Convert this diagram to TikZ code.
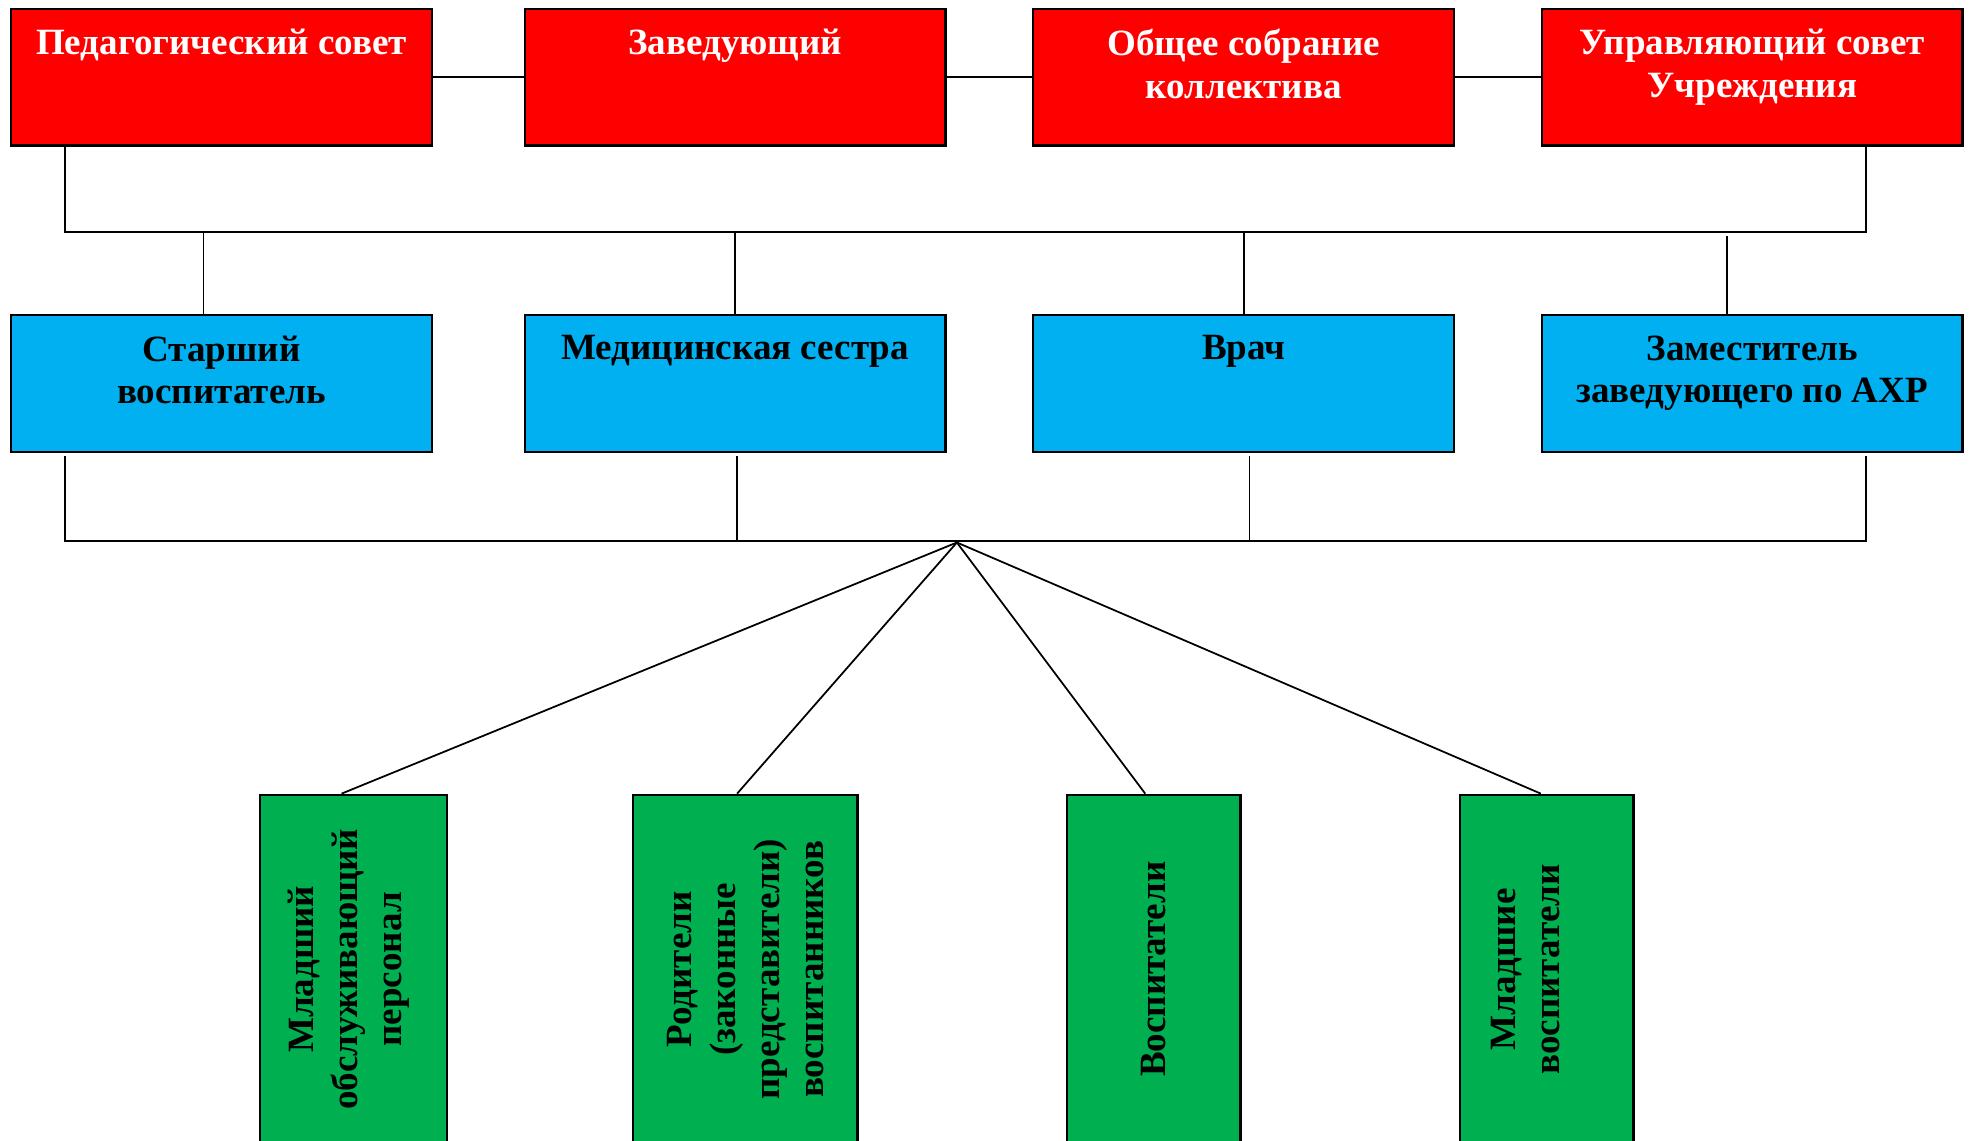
\documentclass[tikz,border=0pt]{standalone}
\usepackage{fontspec}
\setmainfont{Liberation Serif}
\begin{document}
\begin{tikzpicture}[x=1pt,y=-1pt,
  box/.style={draw=black,line width=1.8pt,minimum width=335pt,minimum height=109pt,inner sep=0pt,anchor=north west},
  redbox/.style={box,fill=red},
  bluebox/.style={box,fill={rgb,255:red,0;green,176;blue,240}},
  greenbox/.style={draw=black,line width=1.8pt,minimum height=278pt,inner sep=0pt,anchor=north west,fill={rgb,255:red,0;green,176;blue,80}},
  boxtext/.style={font=\fontsize{29.5}{34}\selectfont\bfseries,align=center,anchor=north,inner sep=0pt},
  vtext/.style={font=\fontsize{29.5}{35}\selectfont\bfseries,align=center,rotate=90,inner sep=0pt},
  conn/.style={draw=black,line width=1.4pt}]
\useasboundingbox (0,0) rectangle (1568,908);
\begin{scope}
\clip (0,0) rectangle (1568,908);
% red row
\node[redbox] (r1) at (8,6) {};
\node[redbox] (r2) at (417,6) {};
\node[redbox] (r3) at (822,6) {};
\node[redbox] (r4) at (1227,6) {};
\node[boxtext,text=white] (tr1) at ([yshift=-17]r1.north) {Педагогический совет};
\node[boxtext,text=white] (tr2) at ([yshift=-17]r2.north) {Заведующий};
\node[boxtext,text=white] (tr3) at ([yshift=-17]r3.north) {Общее собрание\\коллектива};
\node[boxtext,text=white] (tr4) at ([yshift=-17]r4.north) {Управляющий совет\\Учреждения};
% blue row
\node[bluebox] (b1) at (8,250) {};
\node[bluebox] (b2) at (417,250) {};
\node[bluebox] (b3) at (822,250) {};
\node[bluebox] (b4) at (1227,250) {};
\node[boxtext] (tb1) at ([yshift=-17]b1.north) {Старший\\воспитатель};
\node[boxtext] (tb2) at ([yshift=-17]b2.north) {Медицинская сестра};
\node[boxtext] (tb3) at ([yshift=-17]b3.north) {Врач};
\node[boxtext] (tb4) at ([yshift=-17]b4.north) {Заместитель\\заведующего по АХР};
% green row
\node[greenbox,minimum width=149pt] (g1) at (206,632) {};
\node[greenbox,minimum width=179pt] (g2) at (503,632) {};
\node[greenbox,minimum width=138pt] (g3) at (849,632) {};
\node[greenbox,minimum width=138pt] (g4) at (1162,632) {};
\node[vtext] (tg1) at ([xshift=-4]g1.center) {Младший\\обслуживающий\\персонал};
\node[vtext] (tg2) at (g2.center) {Родители\\(законные\\представители)\\воспитанников};
\node[vtext] (tg3) at (g3.center) {Воспитатели};
\node[vtext] (tg4) at ([xshift=-17]g4.center) {Младшие\\воспитатели};
% connectors between red boxes
\draw[conn] (r1.east) -- (r2.west);
\draw[conn] (r2.east) -- (r3.west);
\draw[conn] (r3.east) -- (r4.west);
% upper bus
\coordinate (busAL) at (52,185);
\coordinate (busAR) at (1486,185);
\draw[conn] (busAL |- r1.south) -- (busAL) -- (busAR) -- (busAR |- r4.south);
\coordinate (dA1) at (162,185);
\coordinate (dA4) at (1375,188);
\draw[conn] (dA1) -- (dA1 |- b1.north);
\draw[conn] (b2.north) -- (b2.north |- busAL);
\draw[conn] (b3.north) -- (b3.north |- busAL);
\draw[conn] (dA4) -- (dA4 |- b4.north);
% lower bus
\coordinate (busBL) at (52,431);
\coordinate (busBR) at (1486,431);
\coordinate (dB2) at (587,431);
\coordinate (dB3) at (995,431);
\draw[conn] ([yshift=-2]busBL |- b1.south) -- (busBL) -- (busBR) -- ([yshift=-2]busBR |- b4.south);
\draw[conn] ([yshift=-2]dB2 |- b2.south) -- (dB2);
\draw[conn] ([yshift=-2]dB3 |- b3.south) -- (dB3);
% fan
\coordinate (apex) at (762,432);
\draw[conn] (apex) -- ([xshift=66]g1.north west);
\draw[conn] (apex) -- ([xshift=84]g2.north west);
\draw[conn] (apex) -- ([xshift=63]g3.north west);
\draw[conn] (apex) -- ([xshift=65]g4.north west);
\end{scope}
\end{tikzpicture}
\end{document}
